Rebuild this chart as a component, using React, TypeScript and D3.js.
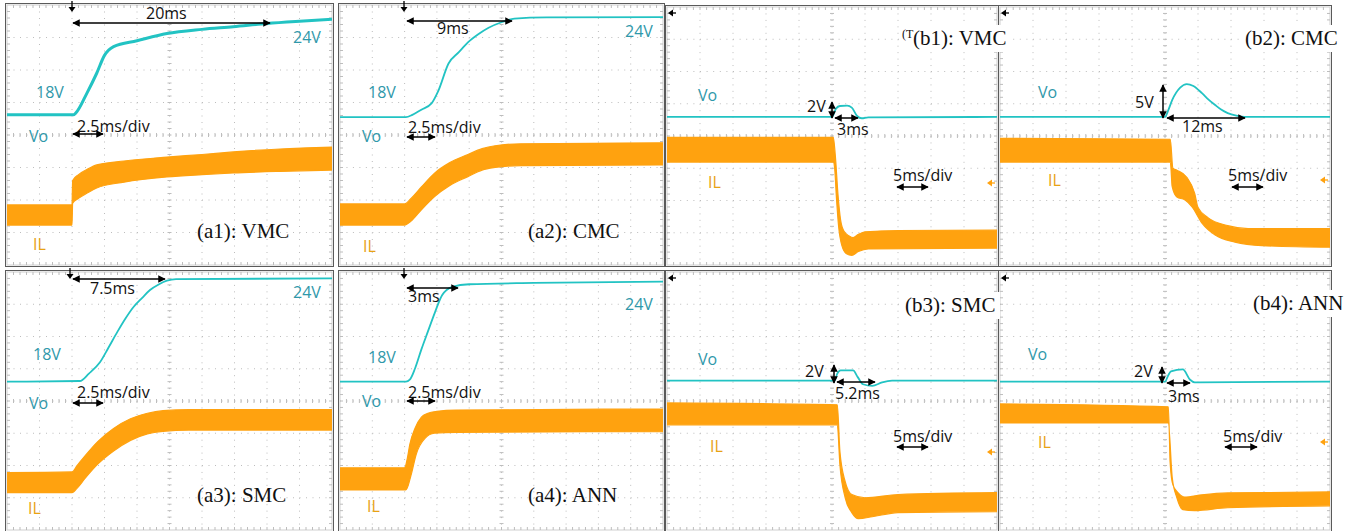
import React from 'react';
import * as d3 from 'd3';

type P = [number, number];

// ---- Data: time in ms, amplitude in scope divisions (0 = bottom, 8 = top) ----
const a1Vo: P[] = [[0,4.62],[5.1,4.62],[5.3,4.68],[6.15,5.29],[6.9,5.9],[7.5,6.45],[8.2,6.72],[10,6.9],[12.3,7.12],[15,7.25],[17.4,7.33],[20,7.43],[22.5,7.5],[25,7.56]];
const a1ILHi: P[] = [[0,1.85],[5.0,1.85],[5.05,2.6],[5.5,2.78],[6.2,2.95],[6.9,3.08],[9,3.2],[12.3,3.32],[15,3.4],[17.4,3.48],[21,3.57],[25,3.63]];
const a1ILLo: P[] = [[0,1.23],[5.0,1.23],[5.05,1.9],[5.5,2.05],[6.2,2.22],[6.9,2.37],[9,2.55],[12.3,2.71],[15,2.78],[17.4,2.83],[21,2.88],[25,2.92]];

const a2Vo: P[] = [[0,4.55],[5.1,4.55],[5.6,4.62],[6.3,4.78],[7.1,4.98],[7.6,5.35],[8.4,6.2],[9.2,6.55],[9.9,6.85],[10.7,7.1],[11.5,7.3],[12.5,7.47],[13.5,7.58],[16,7.62],[25,7.63]];
const a2ILHi: P[] = [[0,1.88],[5.0,1.88],[5.5,2.05],[6.3,2.4],[7.3,2.82],[8.5,3.15],[9.9,3.4],[11,3.58],[12,3.67],[14,3.73],[25,3.76]];
const a2ILLo: P[] = [[0,1.23],[5.0,1.23],[5.5,1.35],[6.3,1.7],[7.3,2.1],[8.5,2.45],[9.9,2.72],[11,2.92],[12,3.0],[14,3.06],[25,3.08]];

const a3Vo: P[] = [[0,4.6],[5.6,4.62],[6.3,4.85],[7.15,5.2],[7.8,5.65],[8.5,6.15],[9.1,6.55],[9.7,6.9],[10.4,7.2],[11,7.44],[11.7,7.62],[12.3,7.73],[13,7.78],[25,7.8]];
const a3ILHi: P[] = [[0,1.78],[5,1.8],[5.4,2.0],[6.0,2.3],[7.0,2.75],[8.2,3.15],[9.5,3.45],[10.8,3.62],[12,3.7],[14,3.73],[25,3.73]];
const a3ILLo: P[] = [[0,1.16],[5,1.16],[5.4,1.3],[6.0,1.6],[7.0,2.05],[8.2,2.45],[9.5,2.78],[10.8,2.98],[12,3.06],[14,3.1],[25,3.1]];

const a4Vo: P[] = [[0,4.6],[5.1,4.6],[5.4,4.66],[5.8,5.0],[6.3,5.6],[6.8,6.15],[7.35,6.75],[7.9,7.28],[8.7,7.54],[10,7.62],[15,7.66],[25,7.7]];
const a4ILHi: P[] = [[0,1.93],[5.0,1.93],[5.2,2.2],[5.4,2.65],[5.8,3.15],[6.3,3.5],[6.8,3.62],[7.5,3.68],[9,3.72],[25,3.75]];
const a4ILLo: P[] = [[0,1.24],[5.1,1.24],[5.5,1.7],[5.9,2.35],[6.6,2.85],[7.3,3.0],[9,3.03],[25,3.05]];

const b1Vo: P[] = [[0,4.59],[25.0,4.59],[25.6,4.85],[26.2,4.93],[27.3,4.94],[28.0,4.88],[28.8,4.62],[29.5,4.55],[30.5,4.58],[50,4.59]];
const b1ILHi: P[] = [[0,3.96],[25.2,3.96],[25.5,3.4],[25.9,2.2],[26.3,1.4],[26.8,1.05],[27.6,0.9],[28.2,0.85],[29,0.95],[30,1.03],[35,1.07],[50,1.08]];
const b1ILLo: P[] = [[0,3.19],[25.2,3.19],[25.4,3.0],[25.7,2.0],[26.0,1.2],[26.5,0.6],[27.2,0.35],[28.0,0.3],[29,0.42],[30.5,0.5],[50,0.52]];

const b2Vo: P[] = [[0,4.59],[25,4.59],[25.5,4.8],[26.1,5.12],[27.3,5.5],[28.3,5.61],[29.3,5.55],[30.6,5.33],[31.6,5.13],[32.6,4.96],[33.5,4.82],[34.5,4.71],[35.8,4.63],[37.1,4.59],[50,4.59]];
const b2ILHi: P[] = [[0,3.93],[25.8,3.9],[26.2,3.0],[26.8,2.94],[28.3,2.72],[29.5,2.22],[30,1.78],[31.5,1.47],[34.5,1.22],[37.6,1.13],[50,1.13]];
const b2ILLo: P[] = [[0,3.19],[25.8,3.19],[26.1,2.42],[26.8,2.11],[28,2.02],[29.1,1.8],[30.6,1.3],[32.6,0.93],[35.6,0.71],[39.7,0.6],[50,0.55]];

const b3Vo: P[] = [[0,4.63],[25.4,4.63],[25.8,4.85],[26.3,4.95],[28.2,4.95],[28.9,4.74],[29.7,4.52],[31.1,4.47],[32.6,4.58],[34.1,4.63],[50,4.63]];
const b3ILHi: P[] = [[0,3.94],[25.8,3.88],[26.2,2.43],[27,1.5],[28,1.1],[30,1.0],[35,1.1],[50,1.16]];
const b3ILLo: P[] = [[0,3.26],[25.8,3.26],[26.2,2.02],[27,1.0],[28,0.54],[29,0.35],[31.1,0.41],[35,0.54],[50,0.57]];

const b4Vo: P[] = [[0,4.6],[25,4.6],[25.5,4.8],[25.9,4.92],[27.7,4.98],[28.8,4.66],[29.5,4.58],[50,4.6]];
const b4ILHi: P[] = [[0,3.91],[25.5,3.82],[25.8,2.02],[26.2,1.4],[27,1.15],[28,1.02],[30.6,1.09],[34.5,1.15],[50,1.18]];
const b4ILLo: P[] = [[0,3.32],[25.5,3.32],[26.1,1.62],[26.8,1.0],[27.7,0.63],[29.5,0.6],[34.5,0.69],[50,0.75]];

const panelTitles = ['(a1): VMC', '(a2): CMC', '(b1): VMC', '(b2): CMC', '(a3): SMC', '(a4): ANN', '(b3): SMC', '(b4): ANN'];

// ---- Styles ----
const SANS = "'Open Sans', 'DejaVu Sans', sans-serif";
const SERIF = "'Liberation Serif', 'Times New Roman', serif";
const VO_COLOR = '#22c3c3';
const IL_COLOR = '#ffa20f';
const TEAL_TXT = '#2f98aa';
const IL_TXT = '#e8a214';
const GRID = '#bdbdbd';

type Txt = [string, number, number, string];
type HA = [number, number, number];
type VA = [number, number, number];

interface PanelCfg {
  key: string; x0: number; x1: number; y0: number; y1: number; tmax: number;
  vo: P[]; hi: P[]; lo: P[]; voW: number;
  title: string; tx: number; ty: number; titleBox: boolean; prefix?: string;
  texts: Txt[]; harrows: HA[]; varrows: VA[];
  trig?: number; leftMark?: number; ilMark?: number;
}

const K = '#111';
const T = TEAL_TXT;
const O = IL_TXT;

const PANELS: PanelCfg[] = [
  { key: 'a1', x0: 7, x1: 332, y0: 5, y1: 265, tmax: 25, vo: a1Vo, hi: a1ILHi, lo: a1ILLo, voW: 3,
    title: panelTitles[0], tx: 197, ty: 238, titleBox: false,
    texts: [['20ms', 146, 19, K], ['24V', 293, 43, T], ['18V', 36, 98, T], ['Vo', 29, 142, T], ['2.5ms/div', 77, 132, K], ['IL', 33, 250, O]],
    harrows: [[73, 270, 23], [73, 103, 134]], varrows: [], trig: 72 },
  { key: 'a2', x0: 340, x1: 663, y0: 5, y1: 265, tmax: 25, vo: a2Vo, hi: a2ILHi, lo: a2ILLo, voW: 1.8,
    title: panelTitles[1], tx: 528, ty: 238, titleBox: false,
    texts: [['9ms', 437, 34, K], ['24V', 625, 37, T], ['18V', 368, 98, T], ['Vo', 362, 142, T], ['2.5ms/div', 408, 133, K], ['IL', 363, 252, O]],
    harrows: [[407, 512, 21], [407, 435, 137]], varrows: [], trig: 404 },
  { key: 'b1', x0: 667, x1: 997, y0: 7, y1: 265, tmax: 50, vo: b1Vo, hi: b1ILHi, lo: b1ILLo, voW: 1.8,
    title: panelTitles[2], tx: 913, ty: 45, titleBox: true, prefix: '(T',
    texts: [['Vo', 698, 101, T], ['2V', 807, 112, K], ['3ms', 837, 135, K], ['IL', 708, 188, O], ['5ms/div', 893, 181, K]],
    harrows: [[835, 858, 118], [897, 928, 187]], varrows: [[832, 102, 118]], leftMark: 13, ilMark: 183 },
  { key: 'b2', x0: 1000, x1: 1330, y0: 7, y1: 265, tmax: 50, vo: b2Vo, hi: b2ILHi, lo: b2ILLo, voW: 1.8,
    title: panelTitles[3], tx: 1245, ty: 45, titleBox: true,
    texts: [['Vo', 1038, 98, T], ['5V', 1135, 108, K], ['12ms', 1182, 132, K], ['IL', 1048, 186, O], ['5ms/div', 1228, 181, K]],
    harrows: [[1167, 1245, 118], [1232, 1263, 187]], varrows: [[1163, 85, 118]], leftMark: 13, ilMark: 180 },
  { key: 'a3', x0: 7, x1: 332, y0: 272, y1: 530, tmax: 25, vo: a3Vo, hi: a3ILHi, lo: a3ILLo, voW: 1.8,
    title: panelTitles[4], tx: 197, ty: 502, titleBox: false,
    texts: [['7.5ms', 90, 294, K], ['24V', 293, 298, T], ['18V', 33, 360, T], ['Vo', 29, 409, T], ['2.5ms/div', 77, 398, K], ['IL', 28, 514, O]],
    harrows: [[73, 165, 279], [73, 103, 403]], varrows: [], trig: 70 },
  { key: 'a4', x0: 340, x1: 663, y0: 272, y1: 530, tmax: 25, vo: a4Vo, hi: a4ILHi, lo: a4ILLo, voW: 1.8,
    title: panelTitles[5], tx: 528, ty: 502, titleBox: false,
    texts: [['3ms', 408, 302, K], ['24V', 625, 310, T], ['18V', 368, 363, T], ['Vo', 362, 407, T], ['2.5ms/div', 408, 398, K], ['IL', 367, 512, O]],
    harrows: [[407, 458, 288], [407, 435, 401]], varrows: [], trig: 404 },
  { key: 'b3', x0: 667, x1: 997, y0: 272, y1: 530, tmax: 50, vo: b3Vo, hi: b3ILHi, lo: b3ILLo, voW: 1.8,
    title: panelTitles[6], tx: 905, ty: 312, titleBox: true,
    texts: [['Vo', 698, 365, T], ['2V', 805, 377, K], ['5.2ms', 835, 399, K], ['IL', 710, 452, O], ['5ms/div', 893, 442, K]],
    harrows: [[837, 875, 382], [897, 928, 447]], varrows: [[834, 365, 383]], leftMark: 278, ilMark: 452 },
  { key: 'b4', x0: 1000, x1: 1330, y0: 272, y1: 530, tmax: 50, vo: b4Vo, hi: b4ILHi, lo: b4ILLo, voW: 1.8,
    title: panelTitles[7], tx: 1253, ty: 310, titleBox: true,
    texts: [['Vo', 1028, 360, T], ['2V', 1134, 377, K], ['3ms', 1168, 402, K], ['IL', 1038, 448, O], ['5ms/div', 1223, 442, K]],
    harrows: [[1167, 1190, 383], [1225, 1257, 447]], varrows: [[1162, 367, 383]], leftMark: 278, ilMark: 442 },
];

function Grid({ p }: { p: PanelCfg }) {
  const w = p.x1 - p.x0, h = p.y1 - p.y0;
  const dx = w / 10, dy = h / 8;
  const els: React.ReactNode[] = [];
  for (let i = 1; i < 10; i++) {
    if (i === 5) continue;
    const x = p.x0 + i * dx;
    els.push(<line key={'v' + i} x1={x} x2={x} y1={p.y0} y2={p.y1} stroke={GRID} strokeWidth={1} strokeDasharray={`1 ${dy / 5 - 1}`} />);
  }
  for (let j = 1; j < 8; j++) {
    if (j === 4) continue;
    const y = p.y0 + j * dy;
    els.push(<line key={'h' + j} x1={p.x0} x2={p.x1} y1={y} y2={y} stroke={GRID} strokeWidth={1} strokeDasharray={`1 ${dx / 5 - 1}`} />);
  }
  const cx = p.x0 + 5 * dx, cy = p.y0 + 4 * dy;
  els.push(<line key="cv" x1={cx} x2={cx} y1={p.y0} y2={p.y1} stroke={GRID} strokeWidth={1} strokeDasharray={`1 ${dy / 5 - 1}`} />);
  els.push(<line key="ch" x1={p.x0} x2={p.x1} y1={cy} y2={cy} stroke={GRID} strokeWidth={1} strokeDasharray={`1 ${dx / 5 - 1}`} />);
  for (let k = 1; k < 50; k++) {
    const x = p.x0 + (k * dx) / 5;
    els.push(<line key={'ct' + k} x1={x} x2={x} y1={cy - 2} y2={cy + 2} stroke={GRID} strokeWidth={1} />);
    els.push(<line key={'bt' + k} x1={x} x2={x} y1={p.y1} y2={p.y1 - 3} stroke={GRID} strokeWidth={1} />);
    els.push(<line key={'tt' + k} x1={x} x2={x} y1={p.y0} y2={p.y0 + 3} stroke={GRID} strokeWidth={1} />);
  }
  for (let k = 1; k < 40; k++) {
    const y = p.y0 + (k * dy) / 5;
    els.push(<line key={'cr' + k} x1={cx - 2} x2={cx + 2} y1={y} y2={y} stroke={GRID} strokeWidth={1} />);
    els.push(<line key={'lt' + k} x1={p.x0} x2={p.x0 + 3} y1={y} y2={y} stroke={GRID} strokeWidth={1} />);
    els.push(<line key={'rt' + k} x1={p.x1} x2={p.x1 - 3} y1={y} y2={y} stroke={GRID} strokeWidth={1} />);
  }
  return <g>{els}</g>;
}

function Panel({ p }: { p: PanelCfg }) {
  const x = d3.scaleLinear().domain([0, p.tmax]).range([p.x0, p.x1]);
  const y = d3.scaleLinear().domain([0, 8]).range([p.y1, p.y0]);
  const line = d3.line<P>().x(d => x(d[0])).y(d => y(d[1])).curve(d3.curveMonotoneX);
  const hiPath = line(p.hi) || '';
  const loRev = line(p.lo.slice().reverse()) || '';
  const band = hiPath + 'L' + loRev.slice(1) + 'Z';
  const clipId = 'clip-' + p.key;
  return (
    <g>
      <defs>
        <clipPath id={clipId}>
          <rect x={p.x0} y={p.y0} width={p.x1 - p.x0} height={p.y1 - p.y0} />
        </clipPath>
      </defs>
      <rect x={p.x0 - 1.5} y={p.y0 - 1.5} width={p.x1 - p.x0 + 3} height={p.y1 - p.y0 + 3} fill="#fff" stroke="#5a5a5a" strokeWidth={1} />
      <rect x={p.x0} y={p.y0} width={p.x1 - p.x0} height={p.y1 - p.y0} fill="none" stroke="#cfcfcf" strokeWidth={1} />
      <Grid p={p} />
      <g clipPath={`url(#${clipId})`}>
        <path d={band} fill={IL_COLOR} stroke={IL_COLOR} strokeWidth={1.2} strokeLinejoin="round" />
        <path d={line(p.vo) || ''} fill="none" stroke={VO_COLOR} strokeWidth={p.voW} strokeLinejoin="round" />
      </g>
      {p.texts.map(([s, tx, ty, c], i) => (
        <text key={'t' + i} x={tx} y={ty} fill={c} fontFamily={SANS} fontSize={16}>{s}</text>
      ))}
      {p.harrows.map(([a, b, yy], i) => (
        <line key={'ha' + i} x1={a} x2={b} y1={yy} y2={yy} stroke="#000" strokeWidth={1.5} markerStart="url(#arr)" markerEnd="url(#arr)" />
      ))}
      {p.varrows.map(([xx, a, b], i) => (
        <line key={'va' + i} x1={xx} x2={xx} y1={a} y2={b} stroke="#000" strokeWidth={1.5} markerStart="url(#arr)" markerEnd="url(#arr)" />
      ))}
      {p.trig !== undefined && (
        <g>
          <line x1={p.trig} x2={p.trig} y1={p.y0 - 4} y2={p.y0 + 3} stroke="#000" strokeWidth={1.3} />
          <path d={`M${p.trig - 3.5},${p.y0 + 2} L${p.trig + 3.5},${p.y0 + 2} L${p.trig},${p.y0 + 7} Z`} fill="#000" />
        </g>
      )}
      {p.leftMark !== undefined && (
        <g>
          <line x1={p.x0 + 3} x2={p.x0 + 9} y1={p.leftMark} y2={p.leftMark} stroke="#000" strokeWidth={1.3} />
          <path d={`M${p.x0 + 1},${p.leftMark} L${p.x0 + 6},${p.leftMark - 3.5} L${p.x0 + 6},${p.leftMark + 3.5} Z`} fill="#000" />
        </g>
      )}
      {p.ilMark !== undefined && (
        <g>
          <line x1={p.x1 - 8} x2={p.x1 - 2} y1={p.ilMark} y2={p.ilMark} stroke={IL_COLOR} strokeWidth={1.3} />
          <path d={`M${p.x1 - 10},${p.ilMark} L${p.x1 - 5},${p.ilMark - 3.5} L${p.x1 - 5},${p.ilMark + 3.5} Z`} fill={IL_COLOR} />
        </g>
      )}
      {!p.titleBox && (
        <text x={p.tx} y={p.ty} fontFamily={SERIF} fontSize={21} fill="#111">{p.title}</text>
      )}
    </g>
  );
}

function BoxTitle({ p }: { p: PanelCfg }) {
  const startX = p.prefix ? p.tx - 11 : p.tx;
  return (
    <g>
      <rect x={startX - 3} y={p.ty - 20} width={(p.tx - startX) + 98} height={27} fill="#fff" />
      {p.prefix && (
        <text x={startX} y={p.ty - 7} fontFamily={SERIF} fontSize={12} fill="#111">{p.prefix}</text>
      )}
      <text x={p.tx} y={p.ty} fontFamily={SERIF} fontSize={21} fill="#111">{p.title}</text>
    </g>
  );
}

export default function App() {
  return (
    <svg width={1364} height={531} viewBox="0 0 1364 531" style={{ position: 'absolute', left: 0, top: 0, background: '#fff' }}>
      <defs>
        <marker id="arr" viewBox="0 0 10 10" refX={9} refY={5} markerWidth={5} markerHeight={5} orient="auto-start-reverse">
          <path d="M0,0 L10,5 L0,10 Z" fill="#000" />
        </marker>
      </defs>
      <rect x={0} y={0} width={1364} height={531} fill="#fff" />
      {PANELS.map(p => <Panel key={p.key} p={p} />)}
      {PANELS.filter(p => p.titleBox).map(p => <BoxTitle key={'bt' + p.key} p={p} />)}
    </svg>
  );
}
